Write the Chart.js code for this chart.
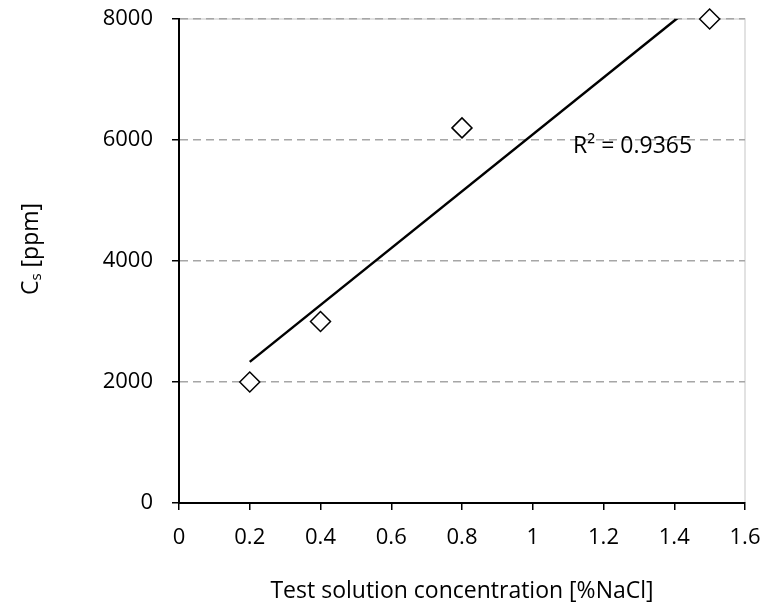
<!DOCTYPE html>
<html>
<head>
<meta charset="utf-8">
<script src="https://cdn.jsdelivr.net/npm/chart.js@4.4.1/dist/chart.umd.min.js"></script>
<style>
  html, body { margin: 0; padding: 0; background: #fff; }
  #wrap { width: 763px; height: 608px; }
</style>
</head>
<body>
<div id="wrap"><canvas id="chart" width="763" height="608"></canvas></div>
<script>
// measured points
const concentration = [0.2, 0.4, 0.8, 1.5];
const csValues = [2000, 3000, 6200, 8000];

// linear trendline ends (clipped at the top)
const trendX = [0.2, 1.5];
const trendY = [2333, 8441];

const xTicks = [0, 0.2, 0.4, 0.6, 0.8, 1, 1.2, 1.4, 1.6];
const yTicks = [0, 2000, 4000, 6000, 8000];

const r2Text = 'R² = 0.9365';
const r2Pos = [1.114, 5785];

const xTitle = 'Test solution concentration [%NaCl]';
const yTitleMain = 'C';
const yTitleSub = 's';
const yTitleRest = ' [ppm]';

const FONT = "'Open Sans', sans-serif";

// light grey frame on top and right of plot area
const frame = {
  id: 'frame',
  beforeDraw(chart) {
    const a = chart.chartArea, ctx = chart.ctx;
    ctx.save();
    ctx.strokeStyle = '#d9d9d9';
    ctx.lineWidth = 1.5;
    ctx.beginPath();
    ctx.moveTo(a.left, a.top);
    ctx.lineTo(a.right, a.top);
    ctx.lineTo(a.right, a.bottom);
    ctx.stroke();
    ctx.restore();
  }
};

// R² label and y title with subscript
const labels = {
  id: 'labels',
  afterDraw(chart) {
    const ctx = chart.ctx;
    const xs = chart.scales.x, ys = chart.scales.y;
    ctx.save();
    ctx.fillStyle = '#000';
    ctx.font = '23px ' + FONT;
    ctx.textAlign = 'left';
    ctx.textBaseline = 'alphabetic';
    ctx.fillText(r2Text, xs.getPixelForValue(r2Pos[0]), ys.getPixelForValue(r2Pos[1]));

    // y title
    const big = '23px ' + FONT, small = '15px ' + FONT;
    ctx.font = big;
    const w1 = ctx.measureText(yTitleMain).width;
    const w3 = ctx.measureText(yTitleRest).width;
    ctx.font = small;
    const w2 = ctx.measureText(yTitleSub).width;
    const total = w1 + w2 + w3;
    const cy = (chart.chartArea.top + chart.chartArea.bottom) / 2 - 12;
    ctx.translate(38, cy);
    ctx.rotate(-Math.PI / 2);
    let u = -total / 2;
    ctx.font = big;
    ctx.fillText(yTitleMain, u, 0);
    u += w1;
    ctx.font = small;
    ctx.fillText(yTitleSub, u, 3);
    u += w2;
    ctx.font = big;
    ctx.fillText(yTitleRest, u, 0);
    ctx.restore();
  }
};

new Chart(document.getElementById('chart'), {
  type: 'scatter',
  data: {
    datasets: [
      {
        label: 'Cs',
        data: concentration.map((x, i) => ({ x: x, y: csValues[i] })),
        pointStyle: 'rectRot',
        pointRadius: 10,
        pointHoverRadius: 10,
        borderColor: '#000',
        backgroundColor: '#fff',
        borderWidth: 1.5,
        clip: false,
        order: 1
      },
      {
        type: 'line',
        label: 'Linear',
        data: trendX.map((x, i) => ({ x: x, y: trendY[i] })),
        borderColor: '#000',
        borderWidth: 2.5,
        pointRadius: 0,
        fill: false,
        clip: 0,
        order: 2
      }
    ]
  },
  options: {
    responsive: false,
    animation: false,
    layout: { padding: { left: 0, right: 18, top: 19, bottom: 0 } },
    plugins: {
      legend: { display: false },
      tooltip: { enabled: false }
    },
    scales: {
      x: {
        type: 'linear',
        min: 0,
        max: 1.6,
        afterBuildTicks(scale) { scale.ticks = xTicks.map(v => ({ value: v })); },
        afterFit(scale) {
          scale.height = 105;
          scale.paddingLeft = 0;
          scale.paddingRight = 0;
        },
        border: { color: '#000', width: 2 },
        grid: {
          drawOnChartArea: false,
          drawTicks: true,
          tickLength: 7,
          tickColor: '#000',
          lineWidth: 1.5
        },
        ticks: {
          color: '#000',
          padding: 15,
          maxRotation: 0,
          font: { family: FONT, size: 22 },
          callback: v => String(v)
        },
        title: {
          display: true,
          text: xTitle,
          color: '#000',
          font: { family: FONT, size: 23 },
          padding: { top: 0, bottom: 3 }
        }
      },
      y: {
        type: 'linear',
        min: 0,
        max: 8000,
        afterBuildTicks(scale) { scale.ticks = yTicks.map(v => ({ value: v })); },
        afterFit(scale) {
          scale.width = 179;
          scale.paddingTop = 0;
          scale.paddingBottom = 0;
        },
        border: { color: '#000', width: 2, dash: [8, 5] },
        grid: {
          color: ctx => (ctx.tick && ctx.tick.value === 0) ? 'rgba(0,0,0,0)' : '#a6a6a6',
          lineWidth: 1.5,
          drawTicks: true,
          tickLength: 7,
          tickColor: '#000',
          tickBorderDash: []
        },
        ticks: {
          color: '#000',
          padding: 19,
          font: { family: FONT, size: 22 },
          callback: v => String(v)
        }
      }
    }
  },
  plugins: [frame, labels]
});
</script>
</body>
</html>
